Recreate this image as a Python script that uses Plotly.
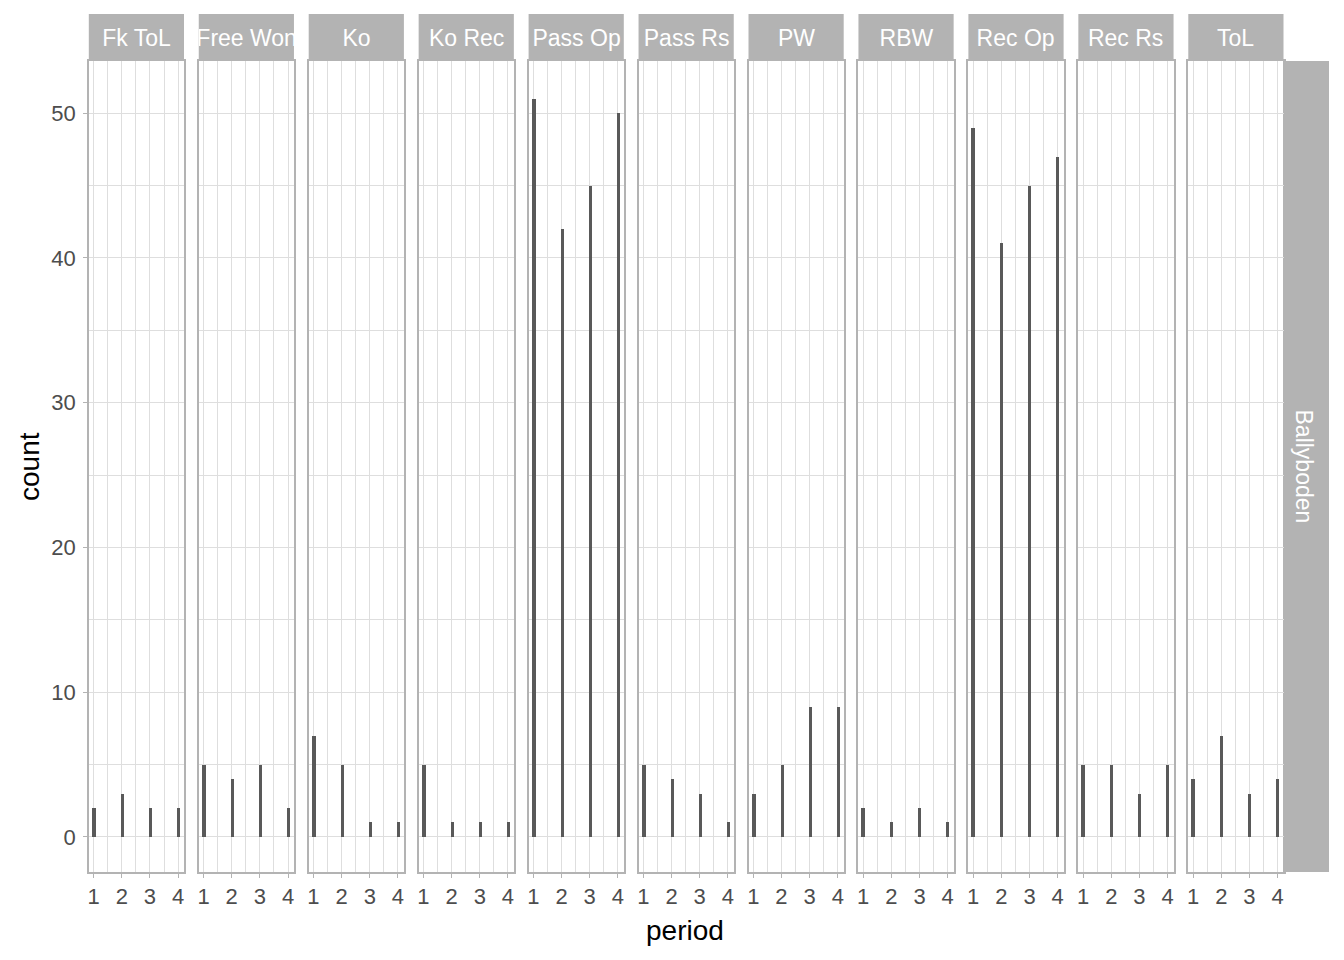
import plotly.graph_objects as go

categories = ["Fk ToL", "Free Won", "Ko", "Ko Rec", "Pass Op", "Pass Rs", "PW", "RBW", "Rec Op", "Rec Rs", "ToL"]
periods = [1, 2, 3, 4]
counts = {
    "Fk ToL": [2, 3, 2, 2],
    "Free Won": [5, 4, 5, 2],
    "Ko": [7, 5, 1, 1],
    "Ko Rec": [5, 1, 1, 1],
    "Pass Op": [51, 42, 45, 50],
    "Pass Rs": [5, 4, 3, 1],
    "PW": [3, 5, 9, 9],
    "RBW": [2, 1, 2, 1],
    "Rec Op": [49, 41, 45, 47],
    "Rec Rs": [5, 5, 3, 5],
    "ToL": [4, 7, 3, 4],
}
row_label = "Ballyboden"
y_ticks = [0, 10, 20, 30, 40, 50]

# page is offset by the default 8px body margin
OFF = 8
W, H = 1344 - OFF, 960 - OFF


def fx(px):
    return (px - OFF) / W


def fy(py):
    return 1 - (py - OFF) / H


FONT = "Liberation Sans, Arial, sans-serif"
GRID = "#DEDEDE"
BORDER = "#B3B3B3"
STRIP = "#B3B3B3"
BAR = "#595959"

px_top, px_bot = 61, 872
y0, y1 = fy(px_bot), fy(px_top)
left0, pw, step = 88.8, 95.2, 109.95

fig = go.Figure()
layout = {}
for i, cat in enumerate(categories):
    n = "" if i == 0 else str(i + 1)
    xl = left0 + i * step
    fig.add_trace(go.Bar(
        x=periods, y=counts[cat], width=0.12, offset=-0.05,
        marker=dict(color=BAR, line=dict(width=0)),
        xaxis="x" + n, yaxis="y" + n, showlegend=False,
    ))
    layout["xaxis" + n] = dict(
        domain=[fx(xl), fx(xl + pw)], range=[0.83, 4.21],
        tickmode="array", tickvals=periods, ticktext=[str(p) for p in periods],
        showgrid=True, gridcolor=GRID, gridwidth=1,
        minor=dict(tickmode="array", tickvals=[1.5, 2.5, 3.5], showgrid=True, gridcolor=GRID, gridwidth=1, ticks=""),
        zeroline=False, showline=True, mirror=True, linecolor=BORDER, linewidth=1.5,
        ticks="outside", ticklen=4, tickcolor=BORDER, tickwidth=1,
        tickfont=dict(family=FONT, size=22, color="#4D4D4D"),
        anchor="y" + n, fixedrange=True,
    )
    layout["yaxis" + n] = dict(
        domain=[y0, y1], range=[-2.42, 53.6],
        tickmode="array", tickvals=y_ticks, ticktext=[str(v) for v in y_ticks],
        showticklabels=(i == 0), ticklabelstandoff=3,
        showgrid=True, gridcolor=GRID, gridwidth=1,
        minor=dict(tickmode="array", tickvals=[5, 15, 25, 35, 45], showgrid=True, gridcolor=GRID, gridwidth=1, ticks=""),
        zeroline=False, showline=True, mirror=True, linecolor=BORDER, linewidth=1.5,
        ticks="outside" if i == 0 else "", ticklen=4, tickcolor=BORDER, tickwidth=1,
        tickfont=dict(family=FONT, size=22, color="#4D4D4D"),
        anchor="x" + n, fixedrange=True,
    )
    if i > 0:
        layout["yaxis" + n]["matches"] = "y"

shapes, annotations = [], []
for i, cat in enumerate(categories):
    xl = left0 + i * step
    shapes.append(dict(type="rect", xref="paper", yref="paper",
                       x0=fx(xl), x1=fx(xl + pw), y0=fy(px_top), y1=fy(14),
                       fillcolor=STRIP, line=dict(width=0), layer="below"))
    annotations.append(dict(text=cat, xref="paper", yref="paper",
                            x=fx(xl + pw / 2), y=fy(38), xanchor="center", yanchor="middle",
                            showarrow=False, width=pw, align="center",
                            font=dict(family=FONT, size=23, color="white")))
# right strip
shapes.append(dict(type="rect", xref="paper", yref="paper",
                   x0=fx(1283), x1=fx(1329), y0=y0, y1=y1,
                   fillcolor=STRIP, line=dict(width=0), layer="below"))
annotations.append(dict(text=row_label, xref="paper", yref="paper",
                        x=fx(1304), y=(y0 + y1) / 2, xanchor="center", yanchor="middle",
                        showarrow=False, textangle=90,
                        font=dict(family=FONT, size=23, color="white")))
annotations.append(dict(text="period", xref="paper", yref="paper",
                        x=fx(685), y=fy(930), xanchor="center", yanchor="middle",
                        showarrow=False, font=dict(family=FONT, size=28, color="black")))
annotations.append(dict(text="count", xref="paper", yref="paper",
                        x=fx(29), y=fy(467), xanchor="center", yanchor="middle",
                        showarrow=False, textangle=-90,
                        font=dict(family=FONT, size=28, color="black")))

fig.update_layout(
    width=W, height=H, margin=dict(l=0, r=0, t=0, b=0),
    paper_bgcolor="white", plot_bgcolor="white",
    shapes=shapes, annotations=annotations, bargap=0, **layout,
)
fig.write_html("out.html")
